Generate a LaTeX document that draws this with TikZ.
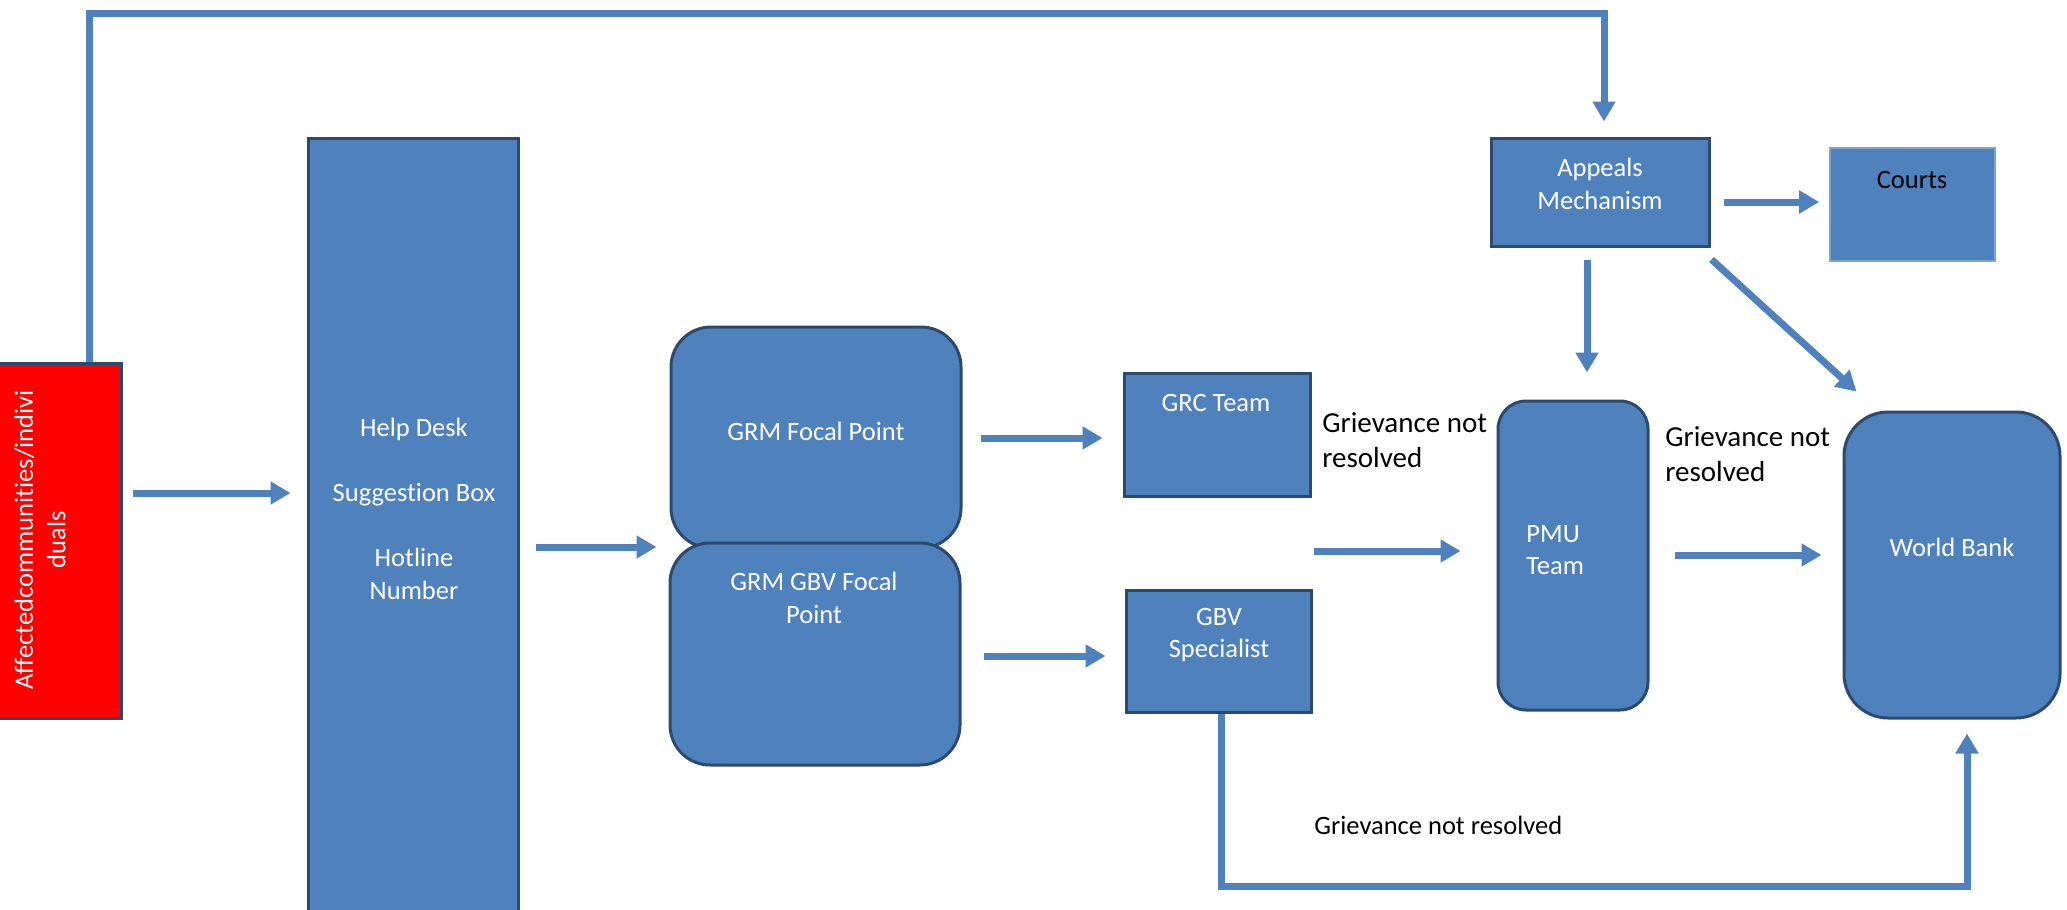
\documentclass[tikz,border=0pt]{standalone}
\usepackage{fontspec}
\setmainfont{Carlito}[Ligatures=NoCommon]
\usetikzlibrary{arrows.meta,fit,calc}
\definecolor{boxfill}{HTML}{4F81BD}
\definecolor{boxline}{HTML}{2C4A6E}
\definecolor{arrblue}{HTML}{4F81BD}
\definecolor{courtline}{HTML}{7FA3D0}
\tikzset{
  box/.style={draw=boxline, line width=1.5pt, fill=boxfill, inner sep=0pt},
  rbox/.style={box, rounded corners=#1},
  wtext/.style={text=white, font=\fontsize{13.25pt}{16.25pt}\selectfont, align=center, inner sep=0pt},
  btext/.style={text=black, font=\fontsize{14.5pt}{17.5pt}\selectfont, align=left, inner sep=0pt},
  stext/.style={text=black, font=\fontsize{13.25pt}{16.25pt}\selectfont, align=left, inner sep=0pt},
  arr/.style={draw=arrblue, line width=3.5pt, line join=miter, -{Triangle[length=10pt,width=11pt]}}
}
\begin{document}
\begin{tikzpicture}[x=0.5pt,y=-0.5pt]
\useasboundingbox (0,0) rectangle (2067,910);
% boxes
\node[box, fill=red, fit={(-12,363)(121,718)}] (aff) {};
\node[box, fit={(308,138)(518,940)}] (help) {};
\node[rbox=20pt, fit={(671,327)(961,548)}] (grm) {};
\node[rbox=20pt, fit={(670,543)(960,765)}] (gbv) {};
\node[box, fit={(1124,373)(1310,496)}] (grc) {};
\node[box, fit={(1126,590)(1311,712)}] (spec) {};
\node[rbox=14pt, fit={(1498,401)(1648,710)}] (pmu) {};
\node[rbox=22pt, fit={(1844,412)(2060,718)}] (wb) {};
\node[box, fit={(1491,138)(1709,246)}] (app) {};
\node[box, draw=courtline, line width=0.8pt, fit={(1830,148)(1995,261)}] (courts) {};
% texts
\node[wtext, rotate=90] (afft) at (40,540) {Affectedcommunities/indivi\\duals};
\node[wtext] (helpt) at (414,509) {Help Desk\\[16.25pt]Suggestion Box\\[16.25pt]Hotline\\Number};
\node[wtext] (grmt) at (816,431) {GRM Focal Point};
\node[wtext] (gbvt) at (814,598) {GRM GBV Focal\\Point};
\node[wtext] (grct) at (1216,403) {GRC Team};
\node[wtext] (spect) at (1219,635) {GBV\\Specialist};
\node[wtext, anchor=west, align=left] (pmut) at (1526,550) {PMU\\Team};
\node[wtext] (wbt) at (1952,547) {World Bank};
\node[wtext] (appt) at (1600,184) {Appeals\\Mechanism};
\node[wtext, text=black] (courtst) at (1912,180) {Courts};
\node[btext, anchor=west] (g1) at (1322,440) {Grievance not\\resolved};
\node[btext, anchor=west] (g2) at (1665,454) {Grievance not\\resolved};
\node[stext, anchor=west] (g3) at (1314,825) {Grievance not resolved};
% connectors
\draw[arr, shorten <=5pt, shorten >=8pt] (aff.east |- 0,493) -- (help.west |- 0,493);
\draw[arr, shorten <=8pt, shorten >=6.5pt] (help.east |- 0,547) -- (grm.west |- 0,547);
\draw[arr, shorten <=9pt, shorten >=10pt] (grm.east |- 0,438) -- (grc.west |- 0,438);
\draw[arr, shorten <=11pt, shorten >=9.5pt] (gbv.east |- 0,656) -- (spec.west |- 0,656);
\draw[arr, shorten <=1pt, shorten >=18pt] (grc.east |- 0,551) -- (pmu.west |- 0,551);
\draw[arr, shorten <=12.5pt, shorten >=10.5pt] (pmu.east |- 0,555) -- (wb.west |- 0,555);
\draw[arr, shorten <=6.5pt, shorten >=5pt] (app.east |- 0,202) -- (courts.west |- 0,202);
\draw[arr, shorten <=6pt, shorten >=13.5pt] (app.south -| 1587,0) -- (pmu.north -| 1587,0);
\draw[arr] ($(app.south east)+(1,12)$) -- ($(wb.north west)+(14,-19)$);
\draw[arr, shorten >=7.5pt] (aff.north -| 89,0) |- (1604,13) -- (app.north -| 1604,0);
\draw[arr, shorten >=7pt] (spec.south -| 1221,0) |- (1967,886) -- (wb.south -| 1967,0);
\end{tikzpicture}
\end{document}
